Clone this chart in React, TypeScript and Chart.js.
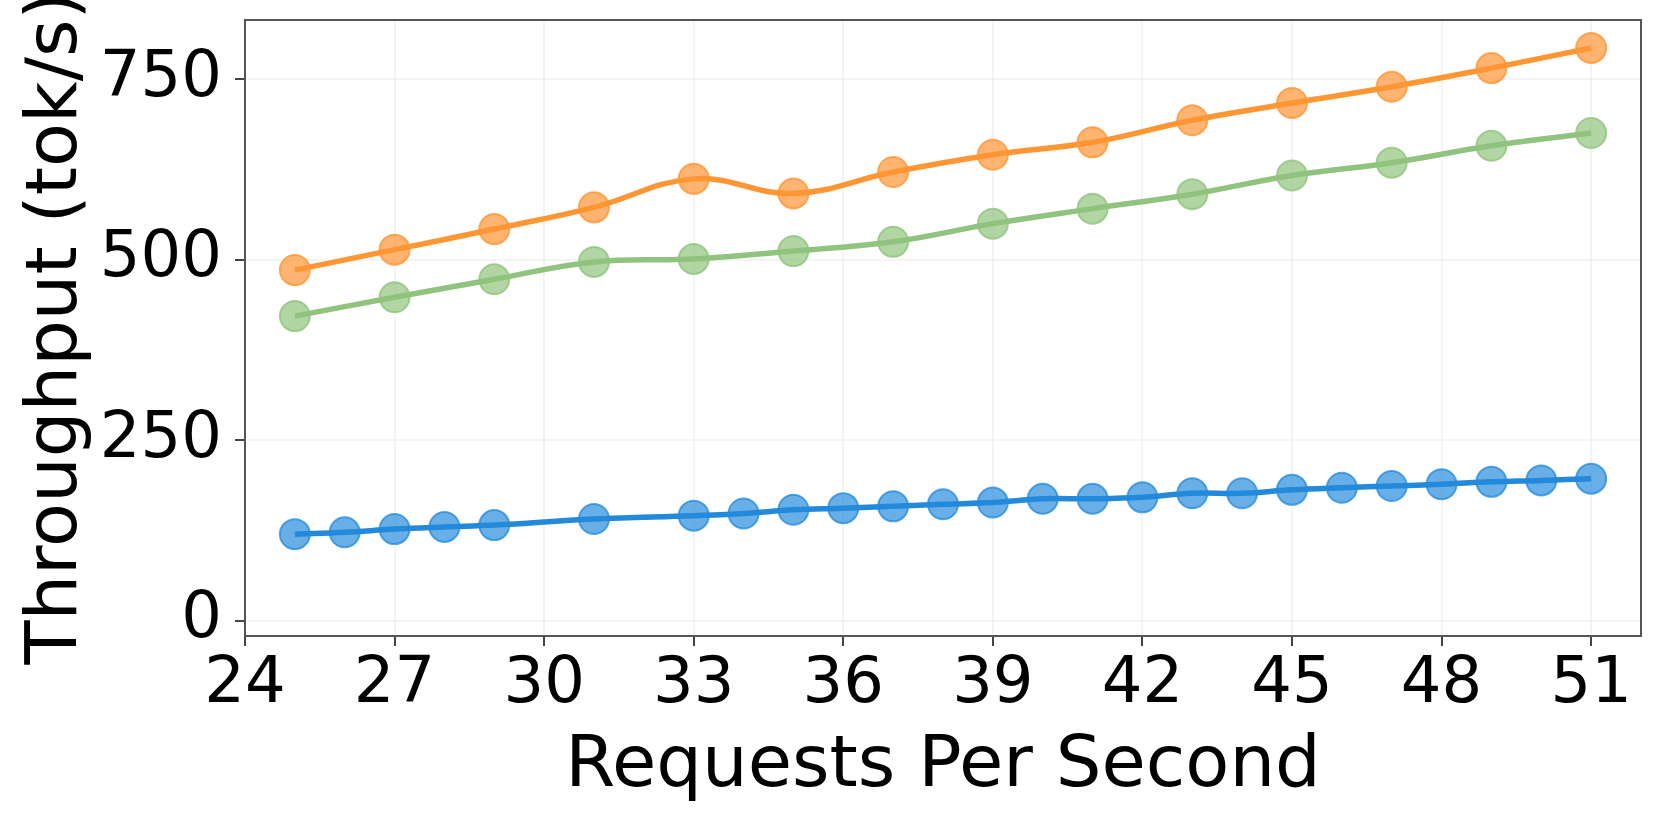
import React, { useEffect, useRef } from "react";
import { Chart, registerables } from "chart.js";

Chart.register(...registerables);

// Blue series (sampled every request rate, with 30 and 32 missing)
const blueX = [25, 26, 27, 28, 29, 31, 33, 34, 35, 36, 37, 38, 39, 40, 41, 42, 43, 44, 45, 46, 47, 48, 49, 50, 51];
const blueValues = [120, 122.6, 127, 130, 132.6, 141, 145.6, 148.6, 153.8, 156, 158.5, 161.4, 163.8, 169, 169, 171, 176.7, 176.7, 181.4, 184.3, 186.7, 189.1, 192.5, 194.4, 196.8];

// Orange and green series (odd request rates)
const pairX = [25, 27, 29, 31, 33, 35, 37, 39, 41, 43, 45, 47, 49, 51];
const orangeValues = [485.7, 514, 542.5, 572.6, 612, 591.8, 621.5, 645.4, 662.6, 693.2, 717, 739.6, 765.4, 793.2];
const greenValues = [422, 448, 473, 497, 501, 512, 524.8, 550, 570.8, 590.8, 616.7, 634.3, 657.8, 675.5];

// Axis ticks and labels
const xTicks = [24, 27, 30, 33, 36, 39, 42, 45, 48, 51];
const yTicks = [0, 250, 500, 750];
const xTitle = "Requests Per Second";
const yTitle = "Throughput (tok/s)";

const FONT = "'DejaVu Sans', 'Liberation Sans', sans-serif";

const toPts = (xs: number[], ys: number[]) => xs.map((x, i) => ({ x, y: ys[i] }));

const series = [
  { name: "blue", xs: blueX, ys: blueValues, line: "rgb(34,137,219)", fill: "rgba(34,137,219,0.68)", edge: "rgba(34,137,219,0.75)" },
  { name: "orange", xs: pairX, ys: orangeValues, line: "rgb(255,150,52)", fill: "rgba(255,150,52,0.7)", edge: "rgba(255,150,52,0.8)" },
  { name: "green", xs: pairX, ys: greenValues, line: "rgb(144,196,126)", fill: "rgba(144,196,126,0.7)", edge: "rgba(144,196,126,0.8)" },
];

const frame = {
  id: "frame",
  afterDraw(chart: any) {
    const { ctx, chartArea } = chart;
    ctx.save();
    ctx.strokeStyle = "#555555";
    ctx.lineWidth = 2;
    ctx.strokeRect(chartArea.left, chartArea.top, chartArea.right - chartArea.left, chartArea.bottom - chartArea.top);
    ctx.restore();
  },
};

export default function App() {
  const ref = useRef<HTMLCanvasElement | null>(null);

  useEffect(() => {
    if (!ref.current) return;
    const datasets: any[] = [];
    series.forEach((s) => {
      datasets.push({
        label: s.name + " markers",
        data: toPts(s.xs, s.ys),
        showLine: false,
        pointRadius: 15,
        pointBorderWidth: 2,
        pointBackgroundColor: s.fill,
        pointBorderColor: s.edge,
        order: 2,
      });
      datasets.push({
        label: s.name,
        data: toPts(s.xs, s.ys),
        showLine: true,
        borderColor: s.line,
        borderWidth: 5.5,
        tension: 0.4,
        pointRadius: 0,
        fill: false,
        order: 1,
      });
    });

    const chart = new Chart(ref.current, {
      type: "scatter",
      data: { datasets },
      options: {
        animation: false,
        responsive: false,
        devicePixelRatio: 1,
        layout: { padding: { left: 0, top: 20, right: 21, bottom: 0 } },
        plugins: { legend: { display: false }, tooltip: { enabled: false } },
        scales: {
          x: {
            type: "linear",
            min: 24,
            max: 52,
            afterBuildTicks: (scale: any) => {
              scale.ticks = xTicks.map((v) => ({ value: v }));
            },
            afterFit: (scale: any) => {
              scale.height = 186;
              scale.paddingLeft = 0;
              scale.paddingRight = 0;
            },
            border: { display: false },
            grid: { color: "rgba(0,0,0,0.045)", lineWidth: 2, tickColor: "#444444", tickLength: 10, tickWidth: 2 },
            ticks: { color: "#000", padding: 1, font: { family: FONT, size: 64 }, maxRotation: 0, autoSkip: false },
            title: { display: true, text: xTitle, color: "#000", font: { family: FONT, size: 72 }, padding: { top: 0, bottom: 12 } },
          },
          y: {
            type: "linear",
            min: -21,
            max: 832,
            afterBuildTicks: (scale: any) => {
              scale.ticks = yTicks.map((v) => ({ value: v }));
            },
            afterFit: (scale: any) => {
              scale.width = 245;
              scale.paddingTop = 0;
              scale.paddingBottom = 0;
            },
            border: { display: false },
            grid: { color: "rgba(0,0,0,0.045)", lineWidth: 2, tickColor: "#444444", tickLength: 10, tickWidth: 2 },
            ticks: { color: "#000", padding: 13, font: { family: FONT, size: 64 }, autoSkip: false },
            title: { display: true, text: yTitle, color: "#000", font: { family: FONT, size: 72 }, padding: { top: 14, bottom: 0 } },
          },
        },
      },
      plugins: [frame],
    } as any);
    return () => chart.destroy();
  }, []);

  return (
    <div style={{ position: "fixed", left: 0, top: 0, width: 1662, height: 822, background: "#fff" }}>
      <canvas ref={ref} width={1662} height={822} style={{ width: 1662, height: 822 }} />
    </div>
  );
}
